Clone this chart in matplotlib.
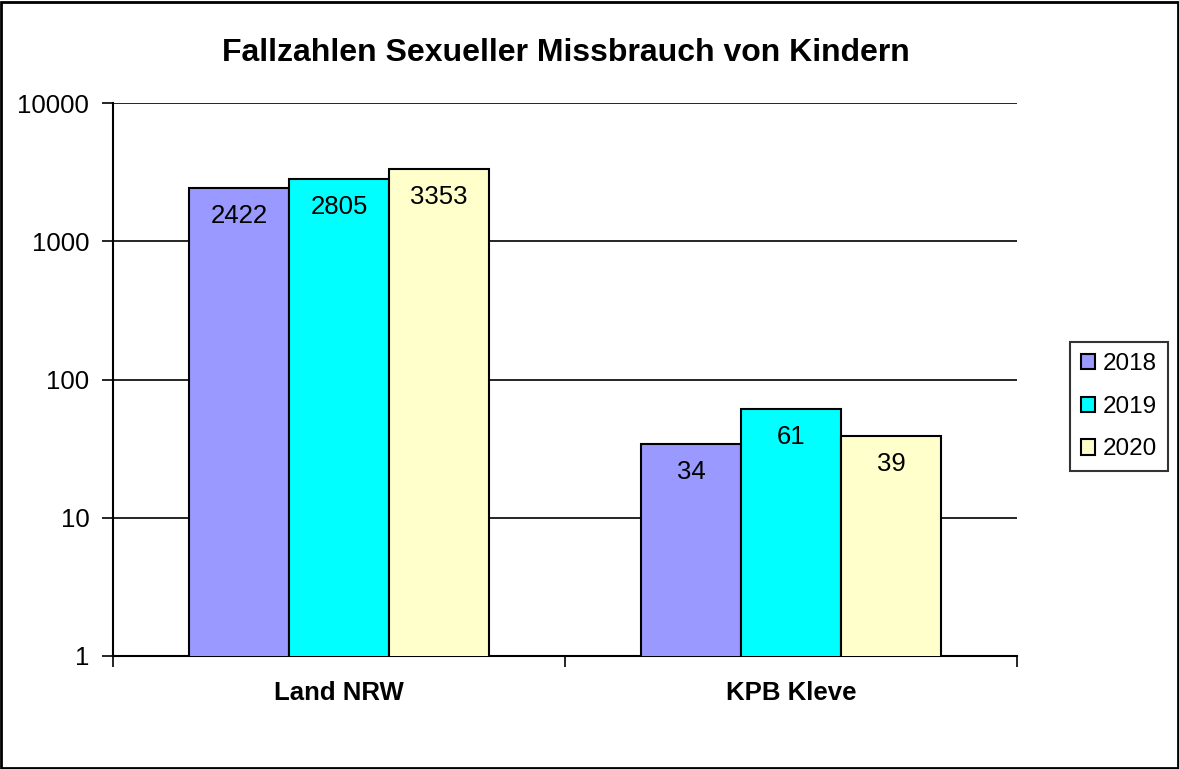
import matplotlib.pyplot as plt
import numpy as np
from matplotlib.patches import Rectangle

plt.rcParams['font.family'] = ['Liberation Sans', 'DejaVu Sans']

# Data
categories = ["Land NRW", "KPB Kleve"]
years = ["2018", "2019", "2020"]
values_2018 = [2422, 34]
values_2019 = [2805, 61]
values_2020 = [3353, 39]
colors = ["#9999FF", "#00FFFF", "#FFFFCC"]

fig = plt.figure(figsize=(11.79, 7.69), dpi=100)
ax = fig.add_axes([0.0958, 0.147, 0.767, 0.719])

x = np.arange(len(categories))
width = 0.221
series = [values_2018, values_2019, values_2020]
for i, (vals, col, yr) in enumerate(zip(series, colors, years)):
    bars = ax.bar(x + (i - 1) * width, vals, width, color=col, edgecolor="black",
                  linewidth=1.5, label=yr, zorder=3)
    for b, v in zip(bars, vals):
        ax.annotate(str(v), (b.get_x() + b.get_width() / 2, v),
                    xytext=(0, -28), textcoords="offset pixels",
                    ha="center", va="center", fontsize=18.5, zorder=4)

ax.set_yscale("log")
ax.set_ylim(1, 10000)
ax.set_xlim(-0.5, 1.5)
ax.set_yticks([1, 10, 100, 1000, 10000])
ax.set_yticklabels(["1", "10", "100", "1000", "10000"], fontsize=18.5)
ax.minorticks_off()
ax.grid(axis="y", color="black", linewidth=1.2, zorder=1)

ax.set_xticks(x)
ax.set_xticklabels(categories, fontsize=18.5, fontweight="bold")
ax.tick_params(axis="x", length=0, pad=18)
ax.set_xticks([-0.5, 0.5, 1.5], minor=True)
ax.tick_params(axis="x", which="minor", length=8, width=1.2, direction="out")
ax.tick_params(axis="y", length=8, width=1.2, direction="out", pad=9)

ax.spines["top"].set_visible(False)
ax.spines["right"].set_visible(False)
ax.spines["left"].set_linewidth(1.5)
ax.spines["bottom"].set_linewidth(1.5)

fig.text(0.48, 0.931, "Fallzahlen Sexueller Missbrauch von Kindern",
         ha="center", va="center", fontsize=23, fontweight="bold")

leg = fig.legend(loc="center left", bbox_to_anchor=(0.9075, 0.471), fontsize=17.5,
                 frameon=True, fancybox=False, edgecolor="black",
                 handlelength=0.6, handleheight=0.6, handletextpad=0.3,
                 borderpad=0.45, labelspacing=0.85, borderaxespad=0)
leg.get_frame().set_linewidth(1.5)

fig.patches.append(Rectangle((0.001, 0.001), 0.998, 0.997, transform=fig.transFigure,
                             fill=False, edgecolor="black", linewidth=2))

fig.savefig("out.png", dpi=100)
